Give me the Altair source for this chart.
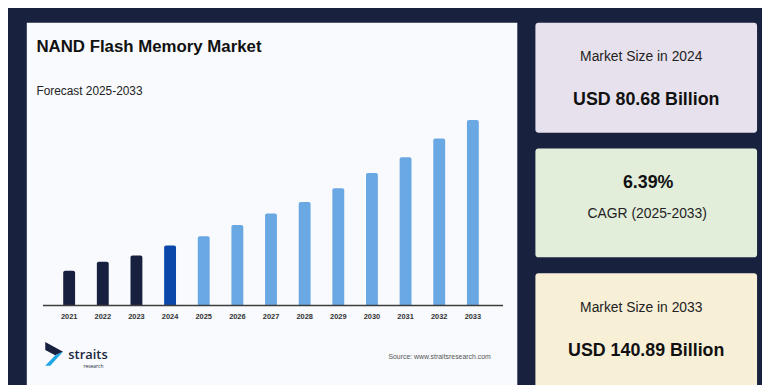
import altair as alt
import pandas as pd

# ---- data (USD billion) ----
years = ["2021", "2022", "2023", "2024", "2025", "2026", "2027",
         "2028", "2029", "2030", "2031", "2032", "2033"]
market_size = [68.5, 72.9, 75.8, 80.68, 85.1, 90.5, 96.0,
               101.6, 108.2, 115.5, 123.1, 132.0, 140.89]
period = ["historical", "historical", "historical", "base",
          "forecast", "forecast", "forecast", "forecast", "forecast",
          "forecast", "forecast", "forecast", "forecast"]
axis_floor = 51.8  # value at the chart's baseline (axis does not start at zero)

title_text = "NAND Flash Memory Market"
subtitle_text = "Forecast 2025-2033"
source_text = "Source: www.straitsresearch.com"
card_labels = ["Market Size in 2024", "CAGR (2025-2033)", "Market Size in 2033"]
card_values = ["USD 80.68 Billion", "6.39%", "USD 140.89 Billion"]

df = pd.DataFrame({"year": years, "value": market_size, "period": period})
one = pd.DataFrame({"k": [0]})

FONT = "Liberation Sans"
NAVY_BG = "#18223f"

x_scale = alt.Scale(range=[44.8, 486.8], paddingInner=0.647, paddingOuter=0.3235)
y_scale = alt.Scale(domain=[axis_floor, 140.89], range=[298.7, 111.3])


def rect(x, x2, y, y2, color, r=0):
    return alt.Chart(one).mark_rect(color=color, cornerRadius=r).encode(
        x=alt.value(x), x2=alt.value(x2), y=alt.value(y), y2=alt.value(y2))


def text(t, x, y, size, weight="normal", align="left", color="#222222",
         baseline="middle", font=FONT):
    return alt.Chart(one).mark_text(
        text=t, align=align, baseline=baseline, fontSize=size,
        fontWeight=weight, font=font, color=color).encode(
        x=alt.value(x), y=alt.value(y))


layers = []
# panels
layers.append(rect(19, 514.7, 13, 400, "#f8fafd"))
layers.append(rect(533, 757, 13, 124, "#e6e1ec", 3))
layers.append(rect(533, 757, 140, 250, "#e2edda", 3))
layers.append(rect(533, 757, 266, 400, "#f7efd6", 3))

# bars
bars = alt.Chart(df).mark_bar(cornerRadiusTopLeft=2, cornerRadiusTopRight=2).encode(
    x=alt.X("year:O", scale=x_scale, axis=None),
    y=alt.Y("value:Q", scale=y_scale, axis=None),
    y2=alt.datum(axis_floor),
    color=alt.Color("period:N",
                    scale=alt.Scale(domain=["historical", "base", "forecast"],
                                    range=["#17203e", "#0a47a8", "#6aa8e3"]),
                    legend=None),
)
layers.append(bars)

# baseline
layers.append(alt.Chart(one).mark_rule(color="#3d3d3d", strokeWidth=1.5).encode(
    x=alt.value(35.3), x2=alt.value(500.3), y=alt.value(298.7)))

# year labels
layers.append(alt.Chart(df).mark_text(
    fontSize=7.5, fontWeight="bold", font=FONT, color="#333333", baseline="middle").encode(
    x=alt.X("year:O", scale=x_scale, axis=None),
    y=alt.value(310),
    text="year:N"))

# titles
layers.append(text(title_text, 28.7, 42.2, 17, "bold", color="#111111", baseline="alphabetic"))
layers.append(text(subtitle_text, 28.7, 86.3, 12, color="#222222", baseline="alphabetic"))
layers.append(text(source_text, 488, 351, 7, align="right", color="#555555"))

# logo
navy_path = "M -0.72 -0.92 L 0.66 -0.17 L 0.05 0.12 L -0.72 -0.3 Z"
cyan_path = "M 0.05 0.12 L 0.66 -0.17 L -0.33 0.92 L -0.72 0.92 Z"
layers.append(alt.Chart(one).mark_point(shape=navy_path, size=676, filled=True,
                                        color="#17203e", opacity=1, strokeWidth=0).encode(
    x=alt.value(47), y=alt.value(347.5)))
layers.append(alt.Chart(one).mark_point(shape=cyan_path, size=676, filled=True,
                                        color="#1fa6e6", opacity=1, strokeWidth=0).encode(
    x=alt.value(47), y=alt.value(347.5)))
layers.append(text("straits", 61, 352.5, 13, 600, color="#1a2540",
                   baseline="alphabetic", font="Open Sans"))
layers.append(text("research", 96.5, 357.5, 5, color="#1a2540", align="right",
                   baseline="top", font="Open Sans"))

# cards
layers.append(text(card_labels[0], 640, 48, 14, align="center"))
layers.append(text(card_values[0], 645, 91, 18, "bold", align="center", color="#111111"))
layers.append(text(card_values[1], 647, 174.5, 18, "bold", align="center", color="#111111"))
layers.append(text(card_labels[1], 646, 206, 14, align="center"))
layers.append(text(card_labels[2], 640, 301, 14, align="center"))
layers.append(text(card_values[2], 645, 345, 18, "bold", align="center", color="#111111"))

chart = alt.layer(*layers).properties(
    width=762, height=377, padding=0,
    autosize=alt.AutoSizeParams(type="none"),
    background=NAVY_BG,
).configure_view(stroke=None)

chart.save("out.html", embed_options={"renderer": "svg", "actions": False})
